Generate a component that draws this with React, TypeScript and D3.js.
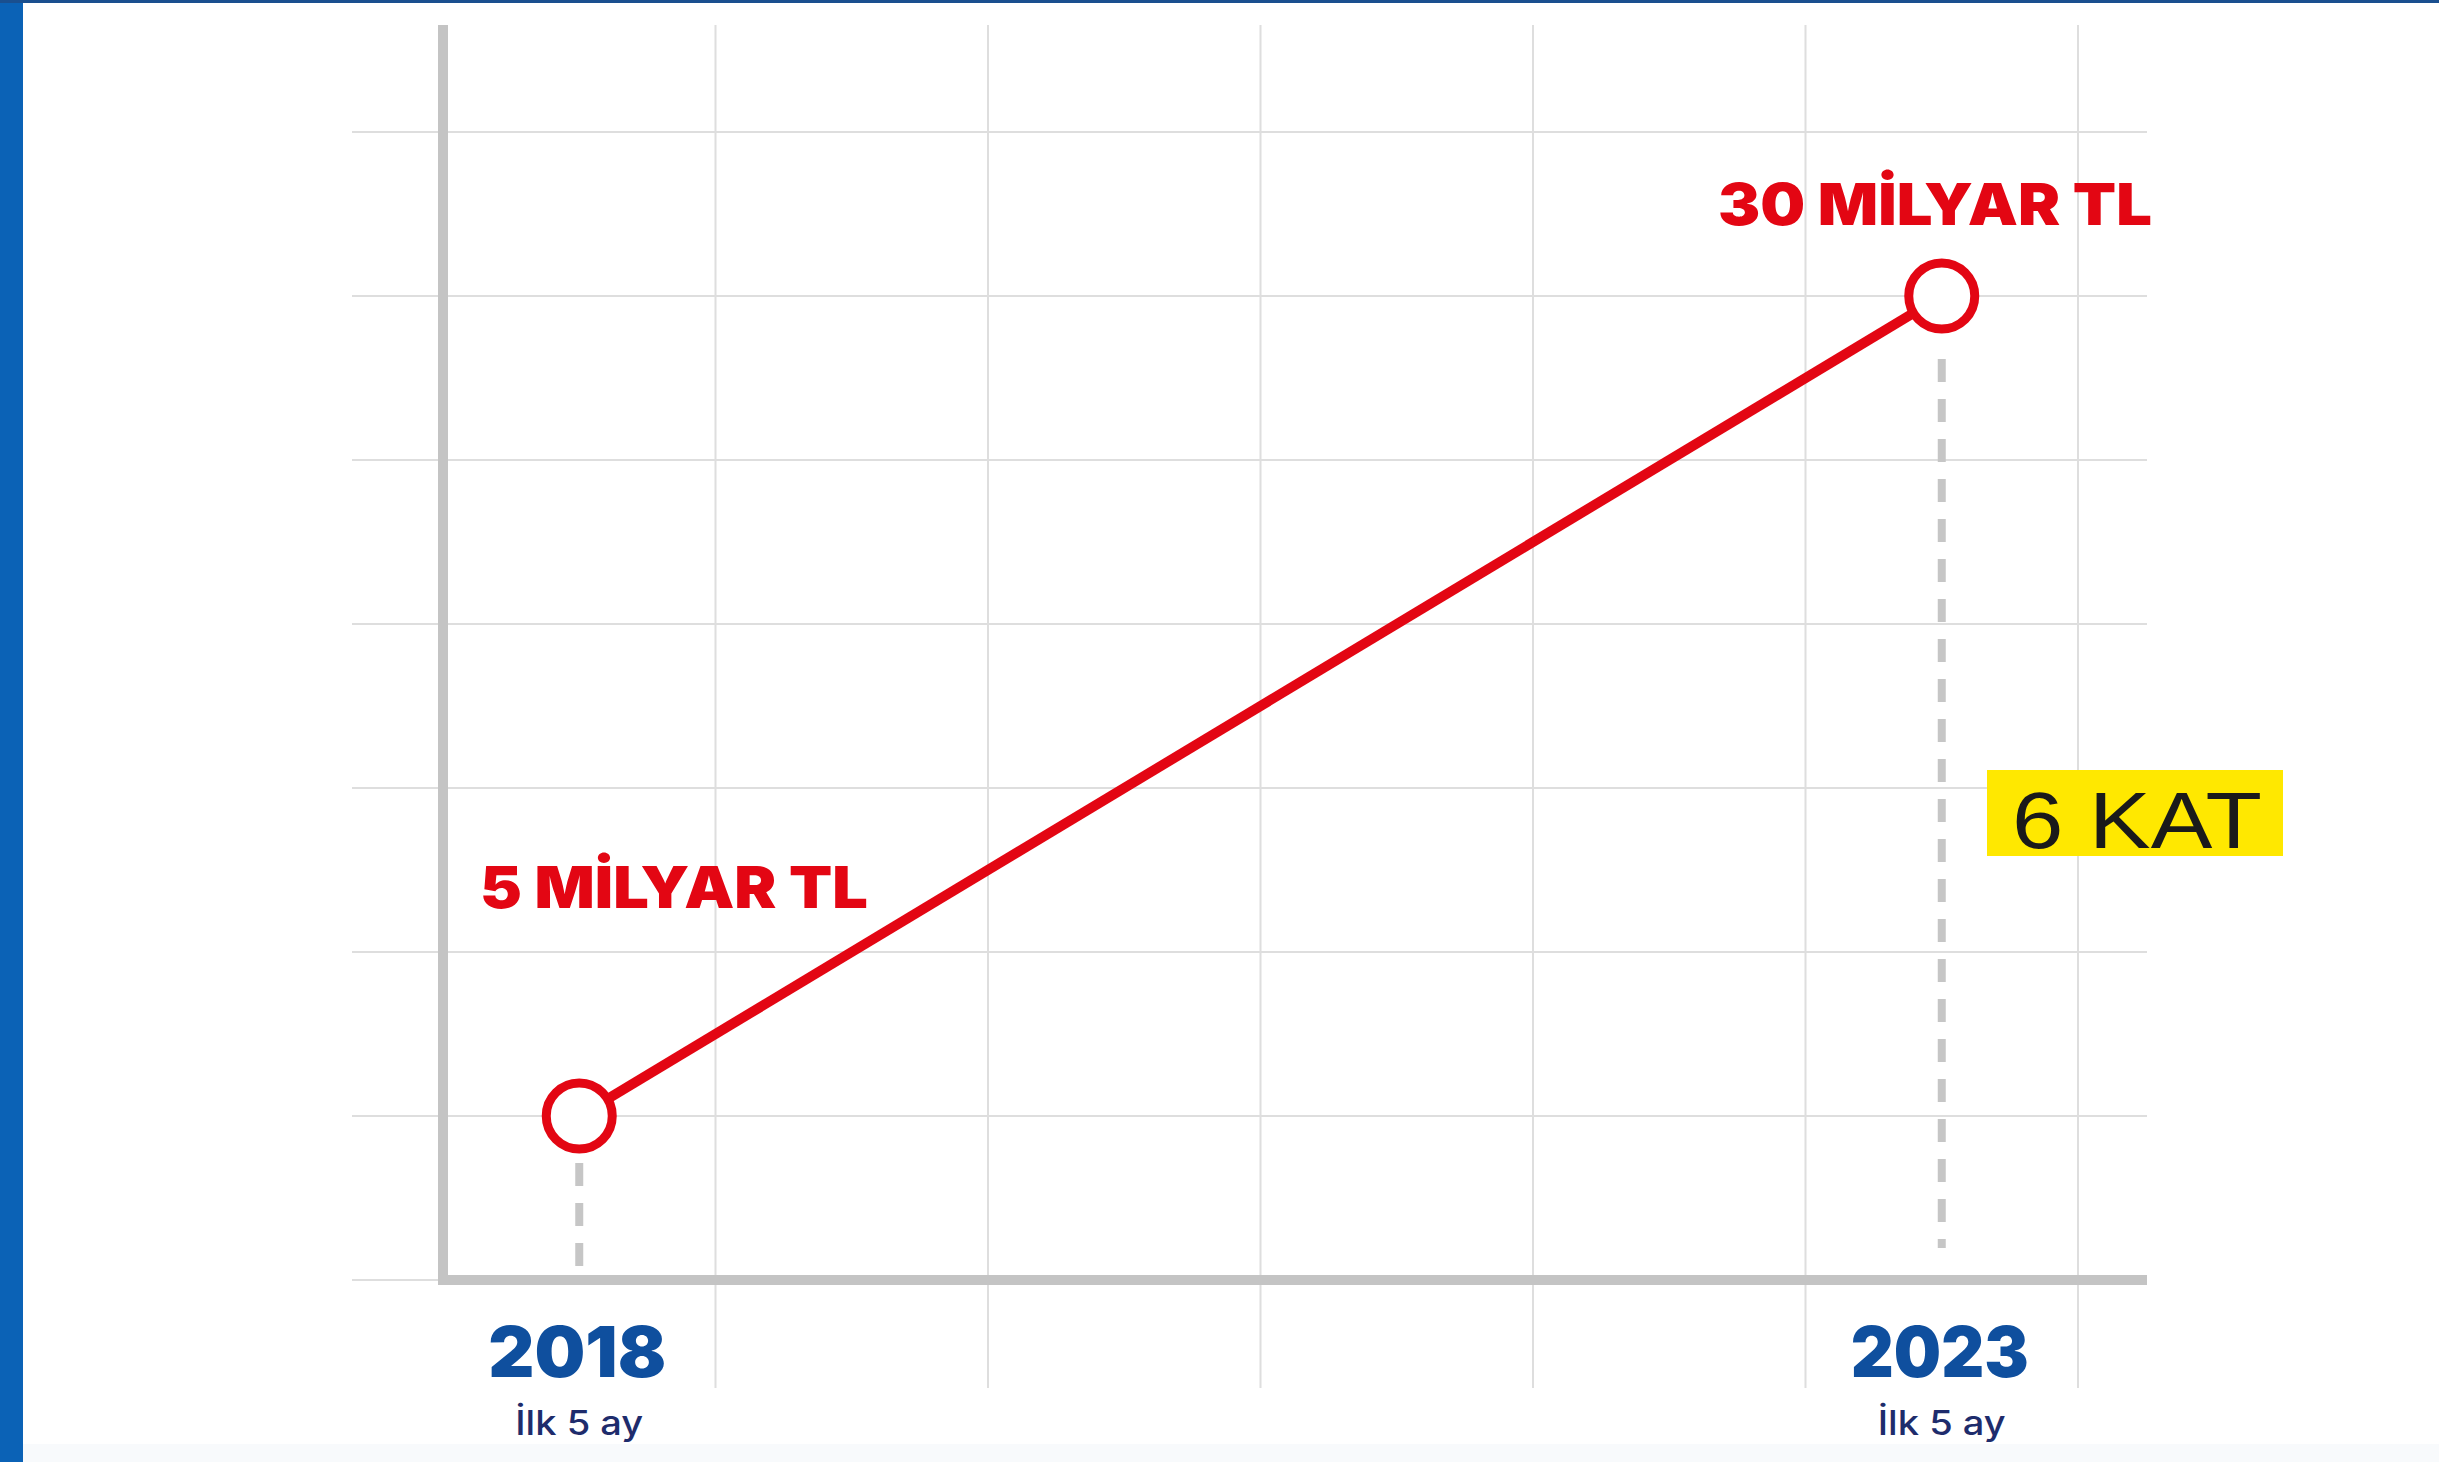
import React from "react";
import * as d3 from "d3";

const years = [2018, 2023];
const values = [5, 30];
const valueLabels = ["5 MİLYAR TL", "30 MİLYAR TL"];
const yearLabels = ["2018", "2023"];
const subLabels = ["İlk 5 ay", "İlk 5 ay"];
const yGridValues = [0, 5, 10, 15, 20, 25, 30, 35];
const xGridValues = [2018.5, 2019.5, 2020.5, 2021.5, 2022.5, 2023.5];
const ratioLabel = "6 KAT";

const W = 2439;
const H = 1462;

export default function App() {
  const x = d3.scaleLinear().domain([2017.5, 2023.5]).range([443, 2078]);
  const y = d3.scaleLinear().domain([0, 35]).range([1280, 132]);
  const line = d3
    .line<number>()
    .x((_, i) => x(years[i]))
    .y((d) => y(d));

  const heavy = "Inter, 'Noto Sans', sans-serif";
  const red = "#e30613";
  const blue = "#0f4f9e";
  const gridColor = "#dedede";
  const axisColor = "#c4c4c4";
  const dashColor = "#c6c6c6";

  const labelPos = [
    { x: 480, y: 908, len: 388 },
    { x: 1718, y: 225, len: 434 },
  ];

  return (
    <svg
      width={W}
      height={H}
      style={{ position: "absolute", left: 0, top: 0, background: "#fff" }}
    >
      <rect x={0} y={0} width={W} height={H} fill="#ffffff" />
      {/* frame */}
      <rect x={0} y={0} width={23} height={H} fill="#0b62b6" />
      <rect x={0} y={0} width={W} height={3} fill="#1a4f8f" />
      <rect x={23} y={1444} width={W - 23} height={18} fill="#f8fafc" />

      {/* horizontal grid */}
      {yGridValues.map((v) => (
        <line
          key={"h" + v}
          x1={352}
          x2={2147}
          y1={y(v)}
          y2={y(v)}
          stroke={gridColor}
          strokeWidth={2}
        />
      ))}
      {/* vertical grid */}
      {xGridValues.map((v) => (
        <line
          key={"v" + v}
          x1={x(v)}
          x2={x(v)}
          y1={25}
          y2={1388}
          stroke={gridColor}
          strokeWidth={2}
        />
      ))}

      {/* axes */}
      <line x1={x(2017.5)} x2={x(2017.5)} y1={25} y2={1284} stroke={axisColor} strokeWidth={10} />
      <line x1={x(2017.5) - 5} x2={2147} y1={y(0)} y2={y(0)} stroke={axisColor} strokeWidth={10} />

      {/* dashed drop lines */}
      <line
        x1={x(years[0])}
        x2={x(years[0])}
        y1={1163}
        y2={1266}
        stroke={dashColor}
        strokeWidth={8}
        strokeDasharray="23 17"
      />
      <line
        x1={x(years[1])}
        x2={x(years[1])}
        y1={359}
        y2={1248}
        stroke={dashColor}
        strokeWidth={8}
        strokeDasharray="23 17"
      />

      {/* series line */}
      <path d={line(values) || ""} fill="none" stroke={red} strokeWidth={10} />
      {values.map((v, i) => (
        <circle
          key={"c" + i}
          cx={x(years[i])}
          cy={y(v)}
          r={33}
          fill="#fff"
          stroke={red}
          strokeWidth={9}
        />
      ))}

      {/* value labels */}
      {valueLabels.map((t, i) => (
        <text
          key={"l" + i}
          x={labelPos[i].x}
          y={labelPos[i].y}
          fill={red}
          fontFamily={heavy}
          fontWeight={900}
          fontSize={58}
          textLength={labelPos[i].len}
          lengthAdjust="spacingAndGlyphs"
        >
          {t}
        </text>
      ))}

      {/* 6 KAT */}
      <rect x={1987} y={770} width={296} height={86} fill="#ffe800" />
      <text
        x={2012}
        y={848}
        fill="#1a1a1a"
        fontFamily="'Liberation Sans', Arial, sans-serif"
        fontSize={80}
        textLength={250}
        lengthAdjust="spacingAndGlyphs"
      >
        {ratioLabel}
      </text>

      {/* year labels */}
      {yearLabels.map((t, i) => (
        <text
          key={"y" + i}
          x={x(years[i]) - 2}
          y={1377}
          fill={blue}
          fontFamily={heavy}
          fontWeight={900}
          fontSize={70}
          textAnchor="middle"
          textLength={178}
          lengthAdjust="spacingAndGlyphs"
        >
          {t}
        </text>
      ))}
      {subLabels.map((t, i) => (
        <text
          key={"s" + i}
          x={x(years[i])}
          y={1435}
          fill="#1e2c6c"
          fontFamily="Inter, 'Noto Sans', sans-serif"
          fontWeight={500}
          fontSize={34}
          textAnchor="middle"
          textLength={128}
          lengthAdjust="spacingAndGlyphs"
        >
          {t}
        </text>
      ))}
    </svg>
  );
}
